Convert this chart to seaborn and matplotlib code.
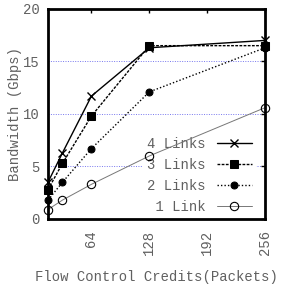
import matplotlib
matplotlib.use("Agg")
import matplotlib.pyplot as plt
import seaborn as sns
import pandas as pd

# flow control credits (packets)
credits = [16, 32, 64, 128, 256]
bw_4links = [3.5, 6.3, 11.7, 16.3, 17.0]
bw_3links = [2.8, 5.3, 9.8, 16.5, 16.5]
bw_2links = [1.8, 3.5, 6.7, 12.1, 16.3]
bw_1link = [0.9, 1.8, 3.3, 6.0, 10.6]

x_ticks = [64, 128, 192, 256]
y_ticks = [0, 5, 10, 15, 20]

sns.set_theme(style="white")
plt.rcParams['font.family'] = ['Liberation Mono', 'DejaVu Sans Mono']
plt.rcParams['text.color'] = '#606060'

fig = plt.figure(figsize=(2.91, 2.87), dpi=100)
ax = fig.add_axes([0.165, 0.237, 0.746, 0.732])

styles = [
    ("4 Links", bw_4links, dict(color='black', ls='-', lw=1.0, marker='x', ms=6,
                                mec='black', mew=1.0)),
    ("3 Links", bw_3links, dict(color='black', ls=(0, (2, 1)), lw=1.0, marker='s', ms=6,
                                mec='black')),
    ("2 Links", bw_2links, dict(color='black', ls=(0, (1, 1.5)), lw=1.0, marker='o', ms=5,
                                mec='black')),
    (" 1 Link", bw_1link, dict(color='#777777', ls='-', lw=0.7, marker='o', ms=6,
                              mfc='none', mec='black', mew=0.8)),
]
for label, vals, kw in styles:
    df = pd.DataFrame({'credits': credits, 'bw': vals})
    sns.lineplot(data=df, x='credits', y='bw', ax=ax, label=label, clip_on=False,
                 zorder=3, **kw)

ax.set_xlim(16, 256)
ax.set_ylim(0, 20)
ax.set_xticks(x_ticks)
ax.set_yticks(y_ticks)
ax.set_xticklabels([str(t) for t in x_ticks], rotation=90, fontsize=10)
ax.set_yticklabels([str(t) for t in y_ticks], fontsize=10)
ax.tick_params(direction='in', length=3, width=1, top=True, right=True, colors='black',
               labelcolor='#606060')
ax.tick_params(axis='x', pad=8)
ax.tick_params(axis='y', pad=6)

for y in [5, 10, 15]:
    ax.axhline(y, color='#7777ee', lw=0.7, ls=(0, (1, 1.5)), zorder=0.5)

for s in ax.spines.values():
    s.set_linewidth(2)
    s.set_color('black')
    s.set_zorder(4)

ax.set_xlabel("Flow Control Credits(Packets)", fontsize=10, color='#606060', labelpad=11)
ax.set_ylabel("Bandwidth (Gbps)", fontsize=10, color='#606060', labelpad=1)

leg = ax.legend(loc='lower right', bbox_to_anchor=(0.99, -0.03), frameon=True, fontsize=10,
                markerfirst=False, handlelength=2.5, handletextpad=0.8, labelspacing=0.5,
                borderpad=0.3)
leg.get_frame().set_edgecolor('none')
leg.get_frame().set_facecolor('white')
leg.get_frame().set_alpha(1)
leg.set_zorder(1.5)
for t in leg.get_texts():
    t.set_color('#606060')

fig.savefig("out.png", dpi=100)
